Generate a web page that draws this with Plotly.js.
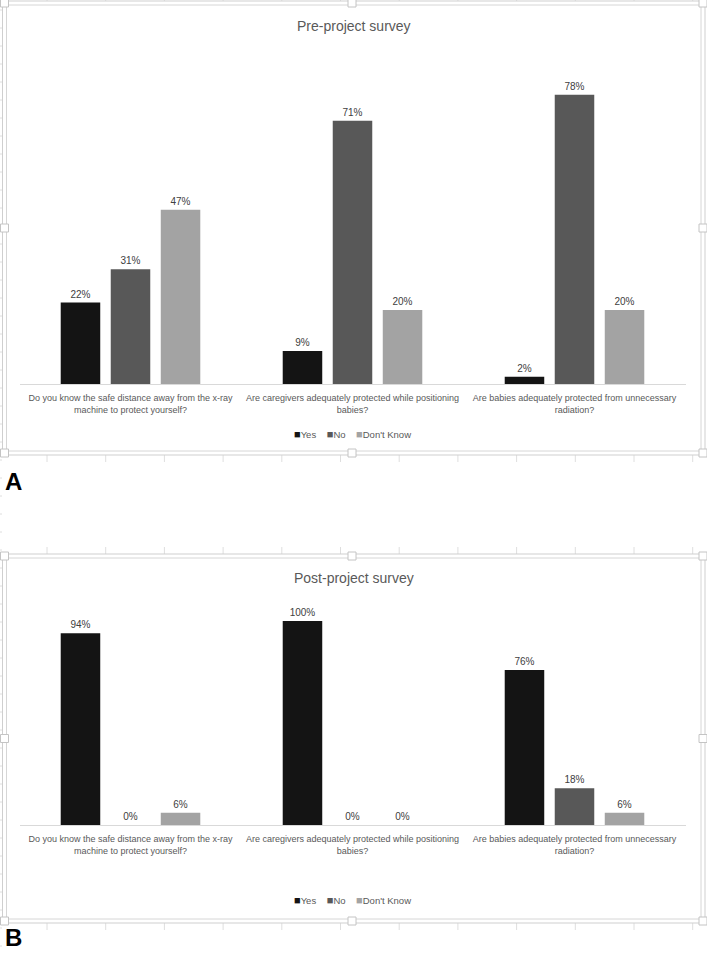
<!DOCTYPE html>
<html><head><meta charset="utf-8">
<script src="https://cdn.plot.ly/plotly-3.0.1.min.js"></script>
<style>html,body{margin:0;padding:0;background:#fff}#chart{width:707px;height:955px}</style>
</head><body><div id="chart"></div><script>
// ---- data ----
const categories = [
  "Do you know the safe distance away from the x-ray machine to protect yourself?",
  "Are caregivers adequately protected while positioning babies?",
  "Are babies adequately protected from unnecessary radiation?"
];
const categoryLabels = [
  "Do you know the safe distance away from the x-ray<br>machine to protect yourself?",
  "Are caregivers adequately protected while positioning<br>babies?",
  "Are babies adequately protected from unnecessary<br>radiation?"
];
const seriesNames = ["Yes", "No", "Don't Know"];
const seriesColors = ["#141414", "#585858", "#a3a3a3"];
const preYes = [0.22, 0.09, 0.02];
const preNo  = [0.31, 0.71, 0.78];
const preDK  = [0.47, 0.20, 0.20];
const postYes = [0.94, 1.00, 0.76];
const postNo  = [0.00, 0.00, 0.18];
const postDK  = [0.06, 0.00, 0.06];
const titles = ["Pre-project survey", "Post-project survey"];
const panelLetters = ["A", "B"];

// ---- layout helpers ----
const W = 707, H = 955;
const X = p => p / W, Y = p => 1 - p / H;
const FONT = "Liberation Sans, Arial, sans-serif";
const txtCol = "#595959";

function makeTraces(series, xa, ya) {
  return series.map((vals, i) => ({
    type: "bar", x: categories, y: vals, name: seriesNames[i],
    marker: {color: seriesColors[i]},
    xaxis: xa, yaxis: ya,
    texttemplate: "%{y:.0%}", textposition: "outside",
    textfont: {family: FONT, size: 10, color: "#404040"},
    cliponaxis: false, showlegend: false, hoverinfo: "skip"
  }));
}

const data = [
  ...makeTraces([preYes, preNo, preDK], "x", "y"),
  ...makeTraces([postYes, postNo, postDK], "x2", "y2")
];

function xAxis(anchor) {
  return {
    type: "category", domain: [X(19.5), X(685.5)], anchor: anchor,
    tickvals: categories, ticktext: categoryLabels,
    showline: true, linecolor: "#d9d9d9", linewidth: 1,
    ticks: "", showgrid: false, zeroline: false, fixedrange: true,
    tickfont: {family: FONT, size: 9, color: txtCol},
    ticklabelstandoff: 5
  };
}
function yAxis(anchor, domain, range) {
  return {anchor: anchor, domain: domain, range: range, visible: false,
          showgrid: false, zeroline: false, fixedrange: true};
}

// frames, handles, sheet grid
const shapes = [];
const frames = [[1, 455], [554, 923]];
for (let k = 0; k < 12; k++) {
  const gx = 47 + 58.7 * k;
  [[0, 1], [455, 462], [547, 554], [923, 930]].forEach(([a, b]) => {
    shapes.push({type: "line", xref: "paper", yref: "paper",
      x0: X(gx), x1: X(gx), y0: Y(a), y1: Y(b), line: {color: "#dedede", width: 1}});
  });
}
for (let gy = 10; gy < 950; gy += 18) {
  shapes.push({type: "line", xref: "paper", yref: "paper",
    x0: X(0), x1: X(2), y0: Y(gy), y1: Y(gy), line: {color: "#dedede", width: 1}});
}
frames.forEach(([t, b]) => {
  shapes.push({type: "rect", xref: "paper", yref: "paper",
    x0: X(2.5), x1: X(705), y0: Y(t), y1: Y(b), line: {color: "#cfcfcf", width: 1}});
  shapes.push({type: "rect", xref: "paper", yref: "paper",
    x0: X(6.5), x1: X(701), y0: Y(t + 4), y1: Y(b - 4), line: {color: "#d6d6d6", width: 1}});
  const mid = (t + b) / 2;
  [[352, t + 2], [352, b - 2], [4.5, mid], [703, mid], [4.5, t + 2], [703, t + 2], [4.5, b - 2], [703, b - 2]]
    .forEach(([hx, hy]) => {
      shapes.push({type: "rect", xref: "paper", yref: "paper",
        x0: X(hx - 4), x1: X(hx + 4), y0: Y(hy - 4), y1: Y(hy + 4),
        fillcolor: "#ffffff", line: {color: "#c4c4c4", width: 1}});
    });
});

const legendText = seriesNames.map((n, i) =>
  `<span style="color:${seriesColors[i]};font-size:11px">■</span>${n}`).join("    ");

const annotations = [
  {text: titles[0], x: 0.5, y: Y(26), xref: "paper", yref: "paper", showarrow: false,
   yanchor: "middle", font: {family: FONT, size: 14, color: txtCol}},
  {text: titles[1], x: 0.5, y: Y(578), xref: "paper", yref: "paper", showarrow: false,
   yanchor: "middle", font: {family: FONT, size: 14, color: txtCol}},
  {text: legendText, x: X(352), y: Y(434), xref: "paper", yref: "paper", showarrow: false,
   yanchor: "middle", font: {family: FONT, size: 9.5, color: txtCol}},
  {text: legendText, x: X(352), y: Y(900), xref: "paper", yref: "paper", showarrow: false,
   yanchor: "middle", font: {family: FONT, size: 9.5, color: txtCol}},
  {text: "<b>" + panelLetters[0] + "</b>", x: X(3), y: Y(481), xref: "paper", yref: "paper",
   showarrow: false, xanchor: "left", yanchor: "middle",
   font: {family: FONT, size: 24, color: "#000"}},
  {text: "<b>" + panelLetters[1] + "</b>", x: X(3), y: Y(937), xref: "paper", yref: "paper",
   showarrow: false, xanchor: "left", yanchor: "middle",
   font: {family: FONT, size: 24, color: "#000"}}
];

const layout = {
  width: W, height: H, margin: {l: 0, r: 0, t: 0, b: 0},
  paper_bgcolor: "#fff", plot_bgcolor: "rgba(0,0,0,0)",
  barmode: "group", bargap: 0.324, bargroupgap: 0.21,
  showlegend: false,
  xaxis: xAxis("y"),
  yaxis: yAxis("x", [Y(384.3), Y(50.1)], [0, 0.9]),
  xaxis2: xAxis("y2"),
  yaxis2: yAxis("x2", [Y(825), Y(580.2)], [0, 1.2]),
  shapes: shapes, annotations: annotations,
  font: {family: FONT}
};

Plotly.newPlot("chart", data, layout, {displayModeBar: false, staticPlot: true});
</script></body></html>
